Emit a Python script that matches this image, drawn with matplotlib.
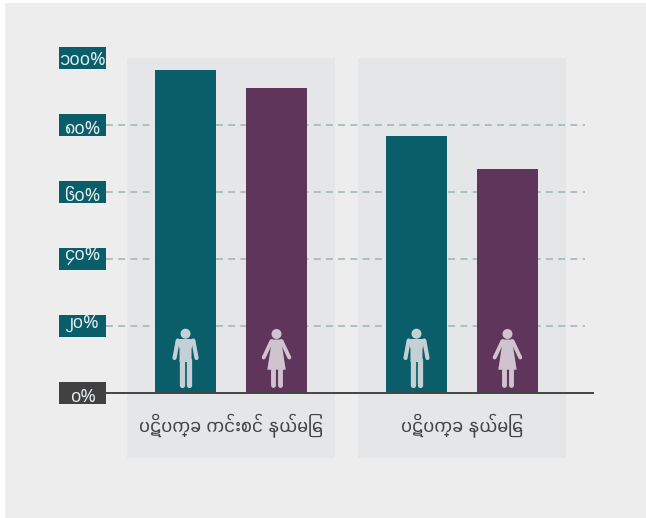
import matplotlib
matplotlib.use("Agg")
import matplotlib.pyplot as plt
from matplotlib.patches import Rectangle, Circle, Polygon
from matplotlib.transforms import blended_transform_factory

# Data
groups = ["ပဋိပက္ခ ကင်းစင် နယ်မြေ", "ပဋိပက္ခ နယ်မြေ"]
men = [96.4, 76.7]
women = [91.0, 66.9]
tick_values = [0, 20, 40, 60, 80, 100]
tick_labels = ["၀%", "၂၀%", "၄၀%", "၆၀%", "၈၀%", "၁၀၀%"]

TEAL = "#0a5e6a"
PURPLE = "#5f355c"
PANEL = "#e4e6e8"
BG = "#ededed"
DARK = "#414141"
FONT = ["Myanmar Sans Pro", "Noto Sans Myanmar", "DejaVu Sans"]

W, H = 646, 518
fig = plt.figure(figsize=(W / 100, H / 100), dpi=100, facecolor="white")
fig.patches.append(Rectangle((5 / W, 0), (W - 5) / W, (H - 3) / H, transform=fig.transFigure,
                             facecolor=BG, edgecolor="none", zorder=-1))

# axes: 0% at y=393, 100% at y=58, x from 106 to 594
ax = fig.add_axes([106 / W, 1 - 393 / H, 488 / W, 335 / H])
ax.patch.set_alpha(0)
ax.set_xlim(-0.874, 4.489)
ax.set_ylim(0, 100)
ax.axis("off")

first = [0, 2.538]
centers = [x + 0.5 for x in first]

# panels behind each group
for c in centers:
    ax.add_patch(Rectangle((c - 1.143, -19.4), 2.286, 119.4, facecolor=PANEL, edgecolor="none",
                           zorder=0, clip_on=False))

# gridlines
for v in tick_values[1:-1]:
    ax.plot([-0.874, 4.39], [v, v], color="#9fb2b5", lw=1.1, dashes=(4.5, 3.5), zorder=1)

ax.bar(first, men, width=0.67, color=TEAL, zorder=2)
ax.bar([x + 1 for x in first], women, width=0.67, color=PURPLE, zorder=2)

# baseline
ax.plot([-0.874, 4.489], [0, 0], color="#444444", lw=1.4, zorder=3, clip_on=False, solid_capstyle="butt")

# tick label boxes
tr = blended_transform_factory(ax.transAxes, ax.transData)
text_shift = [-1.1, 1.0, 1.0, -1.1, -1.1, -0.6]
for v, lab, s in zip(tick_values, tick_labels, text_shift):
    ax.add_patch(Rectangle((-47 / 488, v - 11 / 3.35), 47 / 488, 22 / 3.35, transform=tr,
                           facecolor=DARK if v == 0 else TEAL, edgecolor="none", clip_on=False, zorder=4))
    ax.text(-23.5 / 488, v + s, lab, transform=tr, ha="center", va="center", color="#e8eef0",
            fontsize=13.5, family=FONT, zorder=5)

# group labels
for c, g in zip(centers, groups):
    ax.text(c, -9.7, g, ha="center", va="center", color="#444444", fontsize=14.5, family=FONT)

# person icons, drawn in pixel space over the bars
over = fig.add_axes([0, 0, 1, 1])
over.set_xlim(0, W)
over.set_ylim(H, 0)
over.axis("off")
over.patch.set_alpha(0)


def px(x):
    return ax.transData.transform((x, 0))[0]


def man(cx, col="#c5d0d6"):
    over.add_patch(Circle((cx, 333.7), 5, color=col, lw=0))
    over.add_patch(Polygon([(cx - 8.5, 339), (cx + 8.5, 339), (cx + 6, 349), (cx + 6, 362), (cx - 6, 362), (cx - 6, 349)],
                           color=col, lw=0))
    for s in (-1, 1):
        over.plot([cx + s * 7.8, cx + s * 11], [340.5, 358], color=col, lw=3, solid_capstyle="round")
        over.plot([cx + s * 3.4, cx + s * 3.4], [360, 384.8], color=col, lw=3.8, solid_capstyle="round")


def woman(cx, col="#d0c3d0"):
    over.add_patch(Circle((cx, 334), 5, color=col, lw=0))
    over.add_patch(Polygon([(cx - 4.5, 339.5), (cx + 4.5, 339.5), (cx + 9.2, 369.7), (cx - 9.2, 369.7)], color=col, lw=0))
    for s in (-1, 1):
        over.plot([cx + s * 5, cx + s * 12.8], [341, 357.5], color=col, lw=2.8, solid_capstyle="round")
        over.plot([cx + s * 3.5, cx + s * 3.5], [369, 385], color=col, lw=3.5, solid_capstyle="round")


for x in first:
    man(px(x))
    woman(px(x + 1))

fig.savefig("out.png", dpi=100, facecolor="white")
